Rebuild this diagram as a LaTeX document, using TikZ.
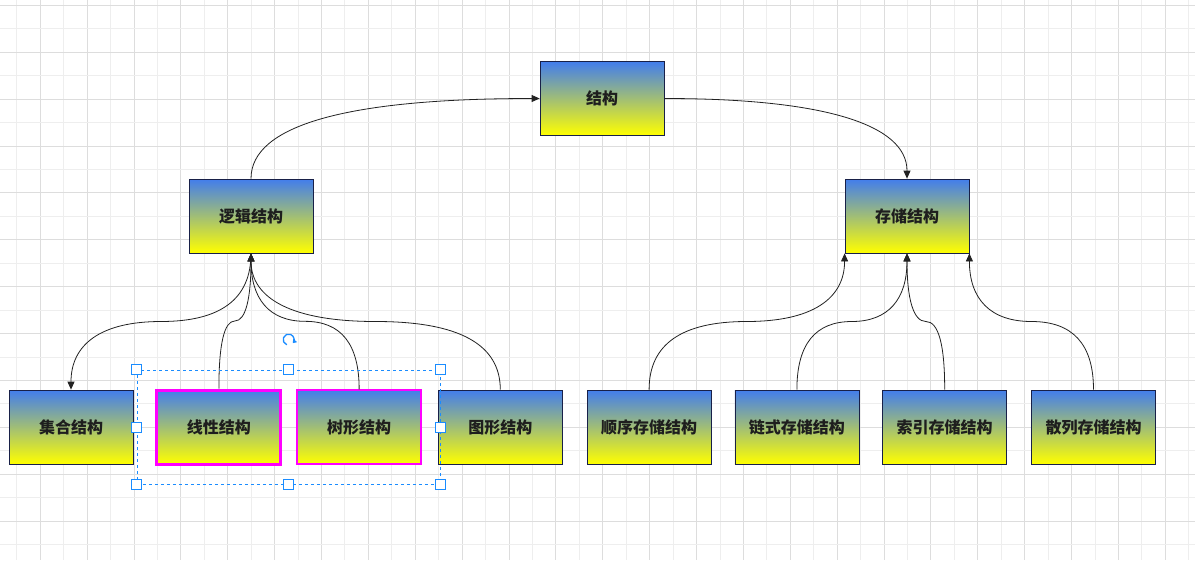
\documentclass[tikz,border=0pt]{standalone}
\usepackage{fontspec}
\usepackage{xcolor}
\usepackage{tikz}
\usetikzlibrary{positioning,calc,fit,arrows.meta}
\newfontfamily\cjk{Noto Sans CJK SC}
\definecolor{topblue}{RGB}{66,125,236}
\definecolor{boxyellow}{RGB}{255,255,0}
\definecolor{boxline}{RGB}{24,32,72}
\definecolor{pink}{RGB}{255,0,255}
\definecolor{edgegray}{RGB}{34,34,34}
\definecolor{selblue}{RGB}{26,140,255}
\definecolor{gridminor}{RGB}{238,238,238}
\definecolor{gridmajor}{RGB}{221,221,221}
\definecolor{txt}{RGB}{30,30,30}

\begin{document}
\begin{tikzpicture}[
    x=1pt, y=-1pt,
    node distance=24pt,
    box/.style={rectangle, draw=boxline, line width=0.8pt, top color=topblue, bottom color=boxyellow,
        minimum width=124pt, minimum height=74pt, inner sep=0pt, text=txt,
        font=\cjk\bfseries\fontsize{16}{19}\selectfont},
    arrow/.style={->, >={Triangle[length=8pt,width=7pt]}, draw=edgegray, line width=0.8pt},
    sbend/.style={to path={let \p1=(\tikztostart), \p2=(\tikztotarget) in
        .. controls (\x1,{\y1+(\y2-\y1)/3}) and ({(\x1+\x2)/2+(\x1-\x2)/3},{(\y1+\y2)/2}) ..
        ({(\x1+\x2)/2},{(\y1+\y2)/2})
        .. controls ({(\x1+\x2)/2-(\x1-\x2)/3},{(\y1+\y2)/2}) and (\x2,{\y2-(\y2-\y1)/3}) .. (\tikztotarget)}},
    handle/.style={rectangle, draw=selblue, fill=white, line width=0.8pt, minimum size=10pt, inner sep=0pt}
]
\useasboundingbox (0,0) rectangle (1195,560);
\fill[white] (0,0) rectangle (1195,560);

% grid
\foreach \i in {0,...,25} {
    \draw[gridminor, line width=0.8pt] ({16.7+46.88*\i},0) -- ++(0,560);
    \draw[gridmajor, line width=0.8pt] ({40.14+46.88*\i},0) -- ++(0,560);
}
\foreach \j in {0,...,11} {
    \draw[gridminor, line width=0.8pt] (0,{28.74+46.88*\j}) -- ++(1195,0);
    \draw[gridmajor, line width=0.8pt] (0,{5.3+46.88*\j}) -- ++(1195,0);
}

\node[box] (root) at (602,98.5) {结构};
\node[box] (logic) at (251,216) {逻辑结构};
\node[box] (store) at (907,216) {存储结构};

\node[box] (set) at (71,427) {集合结构};
\node[box, draw=pink, line width=3pt, right=22pt of set] (linear) {线性结构};
\node[box, draw=pink, line width=1.5pt, right=14pt of linear] (tree) {树形结构};
\node[box, right=16pt of tree] (graph) {图形结构};
\node[box, right=24pt of graph] (seq) {顺序存储结构};
\node[box, right=23pt of seq] (chain) {链式存储结构};
\node[box, right=23pt of chain] (index) {索引存储结构};
\node[box, right=24pt of index] (hash) {散列存储结构};

\draw[arrow] (logic.north) .. controls ($(logic.north)!2/3!(logic.north |- root.west)$)
    and ($(root.west)!2/3!(logic.north |- root.west)$) .. (root.west);
\draw[arrow] (root.east) .. controls ($(root.east)!2/3!(store.north |- root.east)$)
    and ($(store.north)!2/3!(store.north |- root.east)$) .. (store.north);

\draw[arrow] (logic.south) to[sbend] (set.north);
\draw[arrow] (linear.north) to[sbend] (logic.south);
\draw[arrow] (tree.north) to[sbend] (logic.south);
\draw[arrow] (graph.north) to[sbend] (logic.south);

\draw[arrow] (seq.north) to[sbend] (store.south west);
\draw[arrow] (chain.north) to[sbend] (store.south);
\draw[arrow] (index.north) to[sbend] (store.south);
\draw[arrow] (hash.north) to[sbend] (store.south east);

% selection
\node[draw=selblue, line width=0.8pt, dash pattern=on 3pt off 3pt, fit=(linear)(tree),
    inner xsep=18.5pt, inner ysep=18.5pt] (sel) {};
\foreach \a/\n in {north west/1, north/2, north east/3, west/4, east/5, south west/6, south/7, south east/8}
    \node[handle] (h\n) at (sel.\a) {};
\coordinate (rot) at ($(sel.north)+(0,-30)$);
\draw[selblue, line width=1.3pt, -{Triangle[length=3.5pt,width=5pt]}]
    ($(rot)+(110:5.5)$) arc[start angle=110, end angle=400, radius=5.5];
\end{tikzpicture}
\end{document}
